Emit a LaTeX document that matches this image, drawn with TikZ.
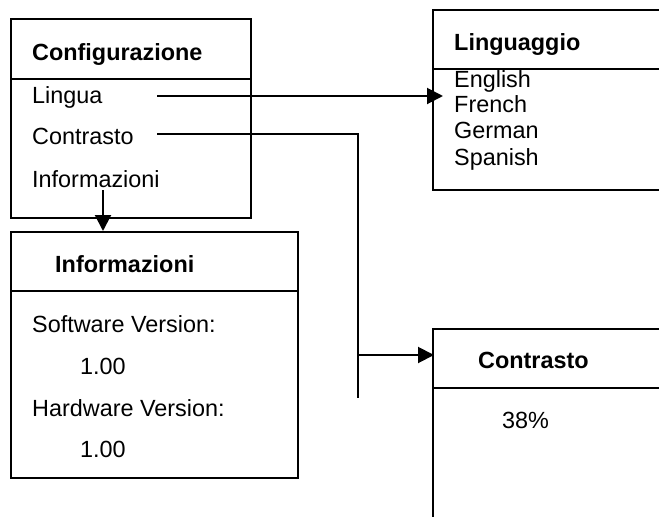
\documentclass[tikz,border=0pt]{standalone}
\usepackage{fontspec}
\setmainfont{Liberation Sans}
\usetikzlibrary{arrows.meta}
\tikzset{
  boxshape/.style={draw, line width=1.7pt, rectangle, inner sep=0pt, anchor=north west},
  divline/.style={line width=1.7pt},
  txt/.style={inner sep=0pt, anchor=base west, font=\fontsize{23.4}{28}\selectfont},
  btxt/.style={txt, font=\fontsize{23.4}{28}\selectfont\bfseries},
  conn/.style={line width=2pt},
  arr/.style={conn, -{Triangle[length=16pt,width=16pt]}}
}
\begin{document}
\begin{tikzpicture}[x=1pt,y=-1pt]
\useasboundingbox (0,0) rectangle (659,517);
\clip (0,0) rectangle (659,517);
% boxes
\node[boxshape, minimum width=240pt, minimum height=199pt] (config) at (10,18) {};
\draw[divline] (10,79) -- (250,79);
\node[boxshape, minimum width=287pt, minimum height=246pt] (info) at (10,231) {};
\draw[divline] (10,291) -- (297,291);
\node[boxshape, minimum width=260pt, minimum height=180pt] (ling) at (432,9) {};
\draw[divline] (432,69) -- (680,69);
\node[boxshape, minimum width=260pt, minimum height=220pt] (contr) at (432,328) {};
\draw[divline] (432,388) -- (680,388);
% texts
\node[btxt] (tconfig) at (32,60) {Configurazione};
\node[txt] (tlingua) at (32,103) {Lingua};
\node[txt] (tcontrasto) at (32,144) {Contrasto};
\node[txt] (tinfo) at (32,187) {Informazioni};
\node[btxt] (tinfohead) at (55,272) {Informazioni};
\node[txt] (tsw) at (32,332) {Software Version:};
\node[txt] (tswv) at (80,374) {1.00};
\node[txt] (thw) at (32,416) {Hardware Version:};
\node[txt] (thwv) at (80,457) {1.00};
\node[btxt] (tling) at (454,50) {Linguaggio};
\node[txt] (ten) at (454,87) {English};
\node[txt] (tfr) at (454,112) {French};
\node[txt] (tde) at (454,138) {German};
\node[txt] (tes) at (454,165) {Spanish};
\node[btxt] (tcontr) at (478,368) {Contrasto};
\node[txt] (tpct) at (502,428) {38\%};
% connectors
\coordinate (lstart) at (157,96);
\coordinate (ltip) at (443,96);
\draw[arr] (lstart) -- (ltip);
\coordinate (cstart) at (157,134);
\coordinate (cend) at (358,398);
\draw[conn] (cstart) -| (cend);
\coordinate (cbranch) at (358,355);
\coordinate (ctip) at (434,355);
\draw[arr] (cbranch) -- (ctip);
\coordinate (istart) at (103,190);
\draw[arr] (istart) -- (istart |- info.north);
\end{tikzpicture}
\end{document}
